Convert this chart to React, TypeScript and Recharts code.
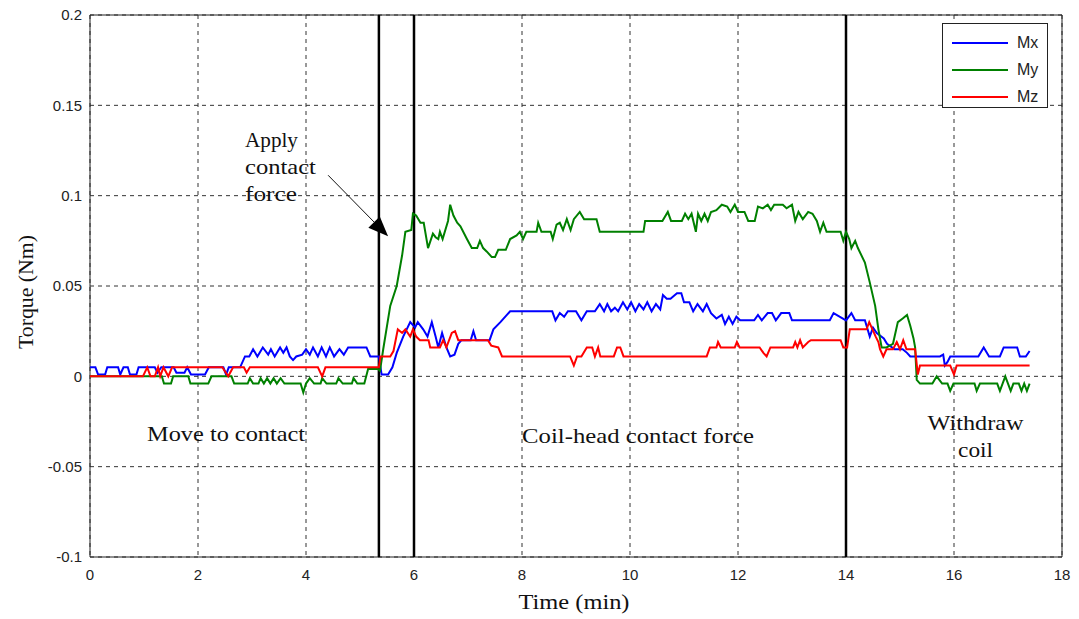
import React from 'react';
import {
  LineChart,
  Line,
  XAxis,
  YAxis,
  CartesianGrid,
  ReferenceLine,
  ReferenceArea,
  ReferenceDot,
  Legend,
} from 'recharts';

// Time (min) / torque (Nm) breakpoints
const mxTime = [
  0, 0.1, 0.15, 0.28, 0.32, 0.52, 0.56, 0.62, 0.7, 0.74, 0.86, 0.9, 1.2, 1.25, 1.32, 1.55, 1.6, 1.75, 1.8, 1.87,
  2.13, 2.2, 2.47, 2.52, 2.57, 2.78, 2.87, 2.95, 3.02, 3.1, 3.2, 3.3, 3.35, 3.42, 3.52, 3.58, 3.64, 3.7, 3.76, 3.82,
  3.93, 4.0, 4.07, 4.13, 4.22, 4.29, 4.37, 4.44, 4.52, 4.62, 4.7, 4.78, 5.12, 5.19, 5.35, 5.4, 5.52, 5.6, 5.68, 5.8,
  5.93, 6.02, 6.07, 6.17, 6.25, 6.33, 6.4, 6.45, 6.52, 6.6, 6.67, 6.75, 6.82, 6.88, 7.05, 7.1, 7.15, 7.4, 7.47, 7.6,
  7.72, 7.78, 8.56, 8.62, 8.7, 8.78, 8.85, 9.0, 9.1, 9.2, 9.35, 9.44, 9.52, 9.58, 9.65, 9.72, 9.78, 9.87, 9.95, 10.02,
  10.1, 10.17, 10.25, 10.32, 10.4, 10.48, 10.56, 10.61, 10.68, 10.75, 10.87, 10.95, 11.0, 11.1, 11.17, 11.25, 11.35,
  11.42, 11.5, 11.6, 11.7, 11.76, 11.83, 11.9, 11.97, 12.04, 12.3, 12.37, 12.44, 12.55, 12.63, 12.7, 12.8, 12.95, 13.0,
  13.7, 13.77, 13.88, 14.0, 14.1, 14.17, 14.35, 14.44, 14.5, 14.57, 14.7, 14.76, 14.9, 15.05, 15.13, 15.19, 15.74,
  15.8, 15.83, 15.88, 15.93, 16.45, 16.55, 16.65, 16.85, 16.92, 17.17, 17.22, 17.33, 17.4,
];
const mxTorque = [
  0.005, 0.005, 0.001, 0.001, 0.005, 0.005, 0.001, 0.005, 0.005, 0.001, 0.001, 0.005, 0.005, 0.002, 0.005, 0.005, 0.002, 0.002, 0.005, 0.001,
  0.001, 0.005, 0.005, 0.001, 0.005, 0.005, 0.011, 0.011, 0.015, 0.011, 0.016, 0.012, 0.015, 0.011, 0.016, 0.013, 0.016, 0.011, 0.009, 0.011,
  0.012, 0.015, 0.012, 0.016, 0.011, 0.016, 0.011, 0.016, 0.011, 0.015, 0.012, 0.016, 0.016, 0.011, 0.011, 0.001, 0.001, 0.005, 0.013, 0.022,
  0.03, 0.027, 0.03, 0.026, 0.022, 0.03, 0.022, 0.016, 0.024, 0.016, 0.011, 0.012, 0.018, 0.02, 0.02, 0.025, 0.02, 0.02, 0.026, 0.03,
  0.034, 0.036, 0.036, 0.031, 0.035, 0.033, 0.036, 0.036, 0.031, 0.036, 0.036, 0.04, 0.036, 0.04, 0.036, 0.038, 0.036, 0.041, 0.037, 0.041,
  0.036, 0.04, 0.037, 0.041, 0.036, 0.04, 0.037, 0.045, 0.043, 0.043, 0.046, 0.046, 0.041, 0.041, 0.036, 0.04, 0.036,
  0.04, 0.035, 0.032, 0.034, 0.029, 0.033, 0.029, 0.033, 0.031, 0.031, 0.034, 0.031, 0.035, 0.035, 0.031, 0.035, 0.035, 0.031,
  0.031, 0.035, 0.033, 0.031, 0.035, 0.031, 0.031, 0.022, 0.027, 0.024, 0.021, 0.018, 0.015, 0.015, 0.013, 0.011, 0.011,
  0.012, 0.006, 0.008, 0.011, 0.011, 0.016, 0.011, 0.011, 0.016, 0.016, 0.011, 0.011, 0.014,
];

const myTime = [
  0, 1.33, 1.37, 1.5, 1.54, 1.82, 1.86, 2.19, 2.25, 2.62, 2.67, 2.92, 2.96, 3.02, 3.12, 3.16, 3.22, 3.28, 3.34, 3.4,
  3.46, 3.53, 3.6, 3.9, 3.95, 4.0, 4.07, 4.15, 4.27, 4.3, 4.38, 4.56, 4.6, 4.68, 4.85, 4.88, 4.95, 5.08, 5.15, 5.33,
  5.37, 5.43, 5.56, 5.68, 5.78, 5.84, 5.95, 5.98, 6.04, 6.12, 6.18, 6.26, 6.35, 6.4, 6.45, 6.48, 6.53, 6.63, 6.67, 6.73,
  6.8, 6.86, 6.98, 7.07, 7.17, 7.22, 7.28, 7.35, 7.44, 7.5, 7.56, 7.7, 7.78, 7.9, 7.96, 8.02, 8.08, 8.27, 8.3, 8.36,
  8.53, 8.57, 8.64, 8.7, 8.76, 8.83, 8.9, 8.96, 9.07, 9.15, 9.38, 9.44, 10.25, 10.28, 10.6, 10.7, 10.76, 10.96, 11.02,
  11.08, 11.14, 11.22, 11.26, 11.32, 11.38, 11.44, 11.5, 11.6, 11.7, 11.8, 11.86, 11.94, 12.0, 12.12, 12.19, 12.31,
  12.37, 12.46, 12.55, 12.61, 12.67, 12.83, 12.9, 13.0, 13.06, 13.12, 13.2, 13.3, 13.38, 13.46, 13.52, 13.58, 13.64,
  13.9, 13.95, 14.0, 14.06, 14.1, 14.17, 14.22, 14.35, 14.44, 14.54, 14.6, 14.66, 14.75, 14.87, 14.96, 15.05, 15.13,
  15.19, 15.25, 15.28, 15.31, 15.37, 15.6, 15.68, 15.78, 15.88, 15.93, 15.99, 16.38, 16.42, 16.48, 16.8, 16.85, 16.9,
  16.95, 17.0, 17.05, 17.1, 17.2, 17.25, 17.3, 17.35, 17.4,
];
const myTorque = [
  0, 0, -0.004, -0.004, 0, 0, -0.004, -0.004, 0, 0, -0.004, -0.004, -0.001, -0.004, -0.004, -0.001, -0.004, -0.001, -0.004, -0.001,
  -0.004, -0.001, -0.004, -0.004, -0.009, -0.004, -0.001, -0.004, -0.004, -0.001, -0.004, -0.004, -0.001, -0.004, -0.004, -0.001, -0.004, -0.004, 0.004, 0.004,
  0.003, 0.015, 0.039, 0.05, 0.067, 0.08, 0.081, 0.09, 0.089, 0.085, 0.085, 0.071, 0.079, 0.077, 0.076, 0.08, 0.076, 0.086, 0.095, 0.089,
  0.085, 0.083, 0.076, 0.071, 0.071, 0.075, 0.071, 0.069, 0.066, 0.066, 0.07, 0.07, 0.076, 0.078, 0.08, 0.076, 0.08, 0.08, 0.085, 0.08,
  0.08, 0.076, 0.084, 0.085, 0.081, 0.087, 0.081, 0.087, 0.091, 0.087, 0.087, 0.08, 0.08, 0.086, 0.086, 0.091, 0.086, 0.086, 0.09,
  0.087, 0.09, 0.08, 0.09, 0.086, 0.09, 0.086, 0.091, 0.092, 0.095, 0.094, 0.091, 0.095, 0.091, 0.091, 0.086, 0.086,
  0.094, 0.093, 0.095, 0.092, 0.095, 0.095, 0.093, 0.095, 0.086, 0.091, 0.087, 0.091, 0.09, 0.086, 0.08, 0.085, 0.08,
  0.08, 0.075, 0.08, 0.076, 0.071, 0.075, 0.071, 0.063, 0.052, 0.039, 0.026, 0.016, 0.016, 0.018, 0.03, 0.032, 0.034,
  0.028, 0.021, 0.016, -0.002, -0.004, -0.004, 0, -0.004, -0.004, -0.008, -0.004, -0.004, -0.008, -0.004, -0.004, -0.008, -0.004,
  0, -0.004, -0.008, -0.004, -0.004, -0.008, -0.004, -0.008, -0.004,
];

const mzTime = [
  0, 0.98, 1.06, 1.12, 1.2, 1.26, 1.3, 1.36, 1.45, 1.52, 2.45, 2.56, 2.65, 2.85, 2.9, 2.96, 4.22, 4.3, 4.36, 5.35,
  5.38, 5.56, 5.62, 5.7, 5.78, 5.84, 5.93, 5.98, 6.04, 6.11, 6.27, 6.3, 6.48, 6.54, 6.6, 6.7, 6.76, 6.82, 7.37, 7.43,
  7.56, 7.63, 8.89, 8.96, 9.02, 9.1, 9.2, 9.3, 9.35, 9.41, 9.45, 9.7, 9.76, 9.82, 9.88, 11.42, 11.48, 11.6, 11.63, 11.68,
  11.94, 11.98, 12.03, 12.4, 12.47, 12.53, 12.6, 13.02, 13.06, 13.1, 13.15, 13.2, 13.3, 13.35, 13.9, 13.95, 14.02, 14.07,
  14.38, 14.43, 14.49, 14.55, 14.6, 14.63, 14.69, 14.75, 14.87, 14.94, 15.0, 15.06, 15.12, 15.28, 15.33, 15.37, 15.93,
  16.0, 16.05, 17.4,
];
const mzTorque = [
  0, 0, 0.005, 0, 0, 0.005, 0, 0.005, 0, 0.005, 0.005, 0, 0.005, 0.005, 0.002, 0.005, 0.005, 0, 0.005, 0.005,
  0.011, 0.011, 0.014, 0.026, 0.024, 0.026, 0.022, 0.026, 0.022, 0.02, 0.02, 0.016, 0.016, 0.02, 0.016, 0.024, 0.025, 0.02, 0.02, 0.017,
  0.016, 0.011, 0.011, 0.006, 0.011, 0.011, 0.016, 0.016, 0.011, 0.016, 0.011, 0.011, 0.016, 0.016, 0.011, 0.011, 0.016, 0.016, 0.019, 0.016,
  0.016, 0.019, 0.016, 0.016, 0.013, 0.011, 0.016, 0.016, 0.019, 0.016, 0.02, 0.016, 0.019, 0.02, 0.02, 0.016, 0.016, 0.026,
  0.026, 0.03, 0.026, 0.022, 0.019, 0.015, 0.011, 0.015, 0.015, 0.019, 0.015, 0.02, 0.015, 0.015, 0.001, 0.006, 0.006,
  0.001, 0.006, 0.006,
];

const xTicks = [0, 2, 4, 6, 8, 10, 12, 14, 16, 18];
const yTicks = [-0.1, -0.05, 0, 0.05, 0.1, 0.15, 0.2];
const phaseMarks = [5.35, 6, 14];

const toPoints = (t: number[], v: number[]) => t.map((x, i) => ({ t: x, v: v[i] }));
const mxData = toPoints(mxTime, mxTorque);
const myData = toPoints(myTime, myTorque);
const mzData = toPoints(mzTime, mzTorque);

const serif = "'Liberation Serif', 'Times New Roman', serif";
const sans = "'Liberation Sans', Arial, sans-serif";

// lines: [text, drawn width in px]
const textShape = (lines: [string, number][], anchor: 'start' | 'middle') => (props: any) => (
  <text x={props.cx} y={props.cy} textAnchor={anchor} fontFamily={serif} fontSize={21} fill="#111">
    {lines.map(([l, w], i) => (
      <tspan
        key={i}
        x={props.cx}
        dy={i === 0 ? '0.35em' : 27}
        textLength={w}
        lengthAdjust="spacingAndGlyphs"
      >
        {l}
      </tspan>
    ))}
  </text>
);

const arrowShape = (props: any) => {
  const { x1, y1, x2, y2 } = props;
  const ang = Math.atan2(y2 - y1, x2 - x1);
  const len = 20;
  const hw = 8;
  const bx = x2 - len * Math.cos(ang);
  const by = y2 - len * Math.sin(ang);
  const px = -Math.sin(ang) * hw;
  const py = Math.cos(ang) * hw;
  return (
    <g>
      <line x1={x1} y1={y1} x2={bx} y2={by} stroke="#111" strokeWidth={1} />
      <polygon points={`${x2},${y2} ${bx + px},${by + py} ${bx - px},${by - py}`} fill="#000" />
    </g>
  );
};

const AxisTitle = ({ viewBox, value, vertical, width }: any) => {
  const { x, y, width: w, height: h } = viewBox;
  if (vertical) {
    const cx = 26;
    const cy = y + h / 2 + 6;
    return (
      <text
        x={cx}
        y={cy}
        transform={`rotate(-90 ${cx} ${cy})`}
        textAnchor="middle"
        dominantBaseline="central"
        fontFamily={serif}
        fontSize={20}
        fill="#111"
        textLength={width}
        lengthAdjust="spacingAndGlyphs"
      >
        {value}
      </text>
    );
  }
  return (
    <text
      x={x + w / 2 - 2}
      y={602}
      textAnchor="middle"
      dominantBaseline="central"
      fontFamily={serif}
      fontSize={20}
      fill="#111"
      textLength={width}
      lengthAdjust="spacingAndGlyphs"
    >
      {value}
    </text>
  );
};

const LegendBox = ({ payload }: any) => (
  <div
    style={{
      width: 106,
      height: 85,
      border: '1px solid #222',
      background: '#fff',
      boxSizing: 'border-box',
      paddingTop: 5,
    }}
  >
    {(payload || []).map((p: any) => (
      <div key={p.value} style={{ display: 'flex', alignItems: 'center', height: 27 }}>
        <div style={{ width: 56, height: 2, background: p.color, marginLeft: 9 }} />
        <span style={{ fontFamily: sans, fontSize: 16, color: '#222', marginLeft: 9 }}>{p.value}</span>
      </div>
    ))}
  </div>
);

export default function App() {
  return (
    <div style={{ position: 'absolute', left: 0, top: 0, background: '#fff' }}>
      <LineChart width={1079} height={619} margin={{ top: 15, right: 17, bottom: 0, left: 0 }}>
        <CartesianGrid stroke="#333" strokeDasharray="4 4" />
        <XAxis
          type="number"
          dataKey="t"
          domain={[0, 18]}
          ticks={xTicks}
          height={62}
          tickSize={0}
          tickMargin={12}
          axisLine={false}
          allowDataOverflow
          tick={{ fill: '#222', fontSize: 15, fontFamily: sans }}
          label={<AxisTitle value="Time (min)" width={111} />}
        />
        <YAxis
          type="number"
          domain={[-0.1, 0.2]}
          ticks={yTicks}
          width={90}
          tickSize={0}
          tickMargin={8}
          axisLine={false}
          allowDataOverflow
          tick={{ fill: '#222', fontSize: 15, fontFamily: sans }}
          label={<AxisTitle value="Torque (Nm)" vertical width={114} />}
        />
        <ReferenceArea x1={0} x2={18} y1={-0.1} y2={0.2} fill="none" stroke="#222" strokeWidth={1} ifOverflow="extendDomain" />
        {phaseMarks.map((x) => (
          <ReferenceLine key={x} x={x} stroke="#000" strokeWidth={2.5} />
        ))}
        <Line data={mxData} dataKey="v" name="Mx" stroke="#0000ff" strokeWidth={2} dot={false} type="linear" isAnimationActive={false} />
        <Line data={myData} dataKey="v" name="My" stroke="#008000" strokeWidth={2} dot={false} type="linear" isAnimationActive={false} />
        <Line data={mzData} dataKey="v" name="Mz" stroke="#ff0000" strokeWidth={2} dot={false} type="linear" isAnimationActive={false} />
        <ReferenceLine segment={[{ x: 4.41, y: 0.1113 }, { x: 5.52, y: 0.0775 }]} shape={arrowShape} />
        <ReferenceDot
          x={2.87}
          y={0.131}
          r={0}
          shape={textShape([['Apply', 53], ['contact', 71], ['force', 52]], 'start')}
        />
        <ReferenceDot x={2.52} y={-0.032} r={0} shape={textShape([['Move to contact', 158]], 'middle')} />
        <ReferenceDot x={10.15} y={-0.033} r={0} shape={textShape([['Coil-head contact force', 232]], 'middle')} />
        <ReferenceDot x={16.4} y={-0.0255} r={0} shape={textShape([['Withdraw', 96], ['coil', 35]], 'middle')} />
        <Legend
          verticalAlign="middle"
          align="center"
          layout="vertical"
          content={<LegendBox />}
          wrapperStyle={{ position: 'absolute', left: 942, top: 23, width: 106 }}
        />
      </LineChart>
    </div>
  );
}
